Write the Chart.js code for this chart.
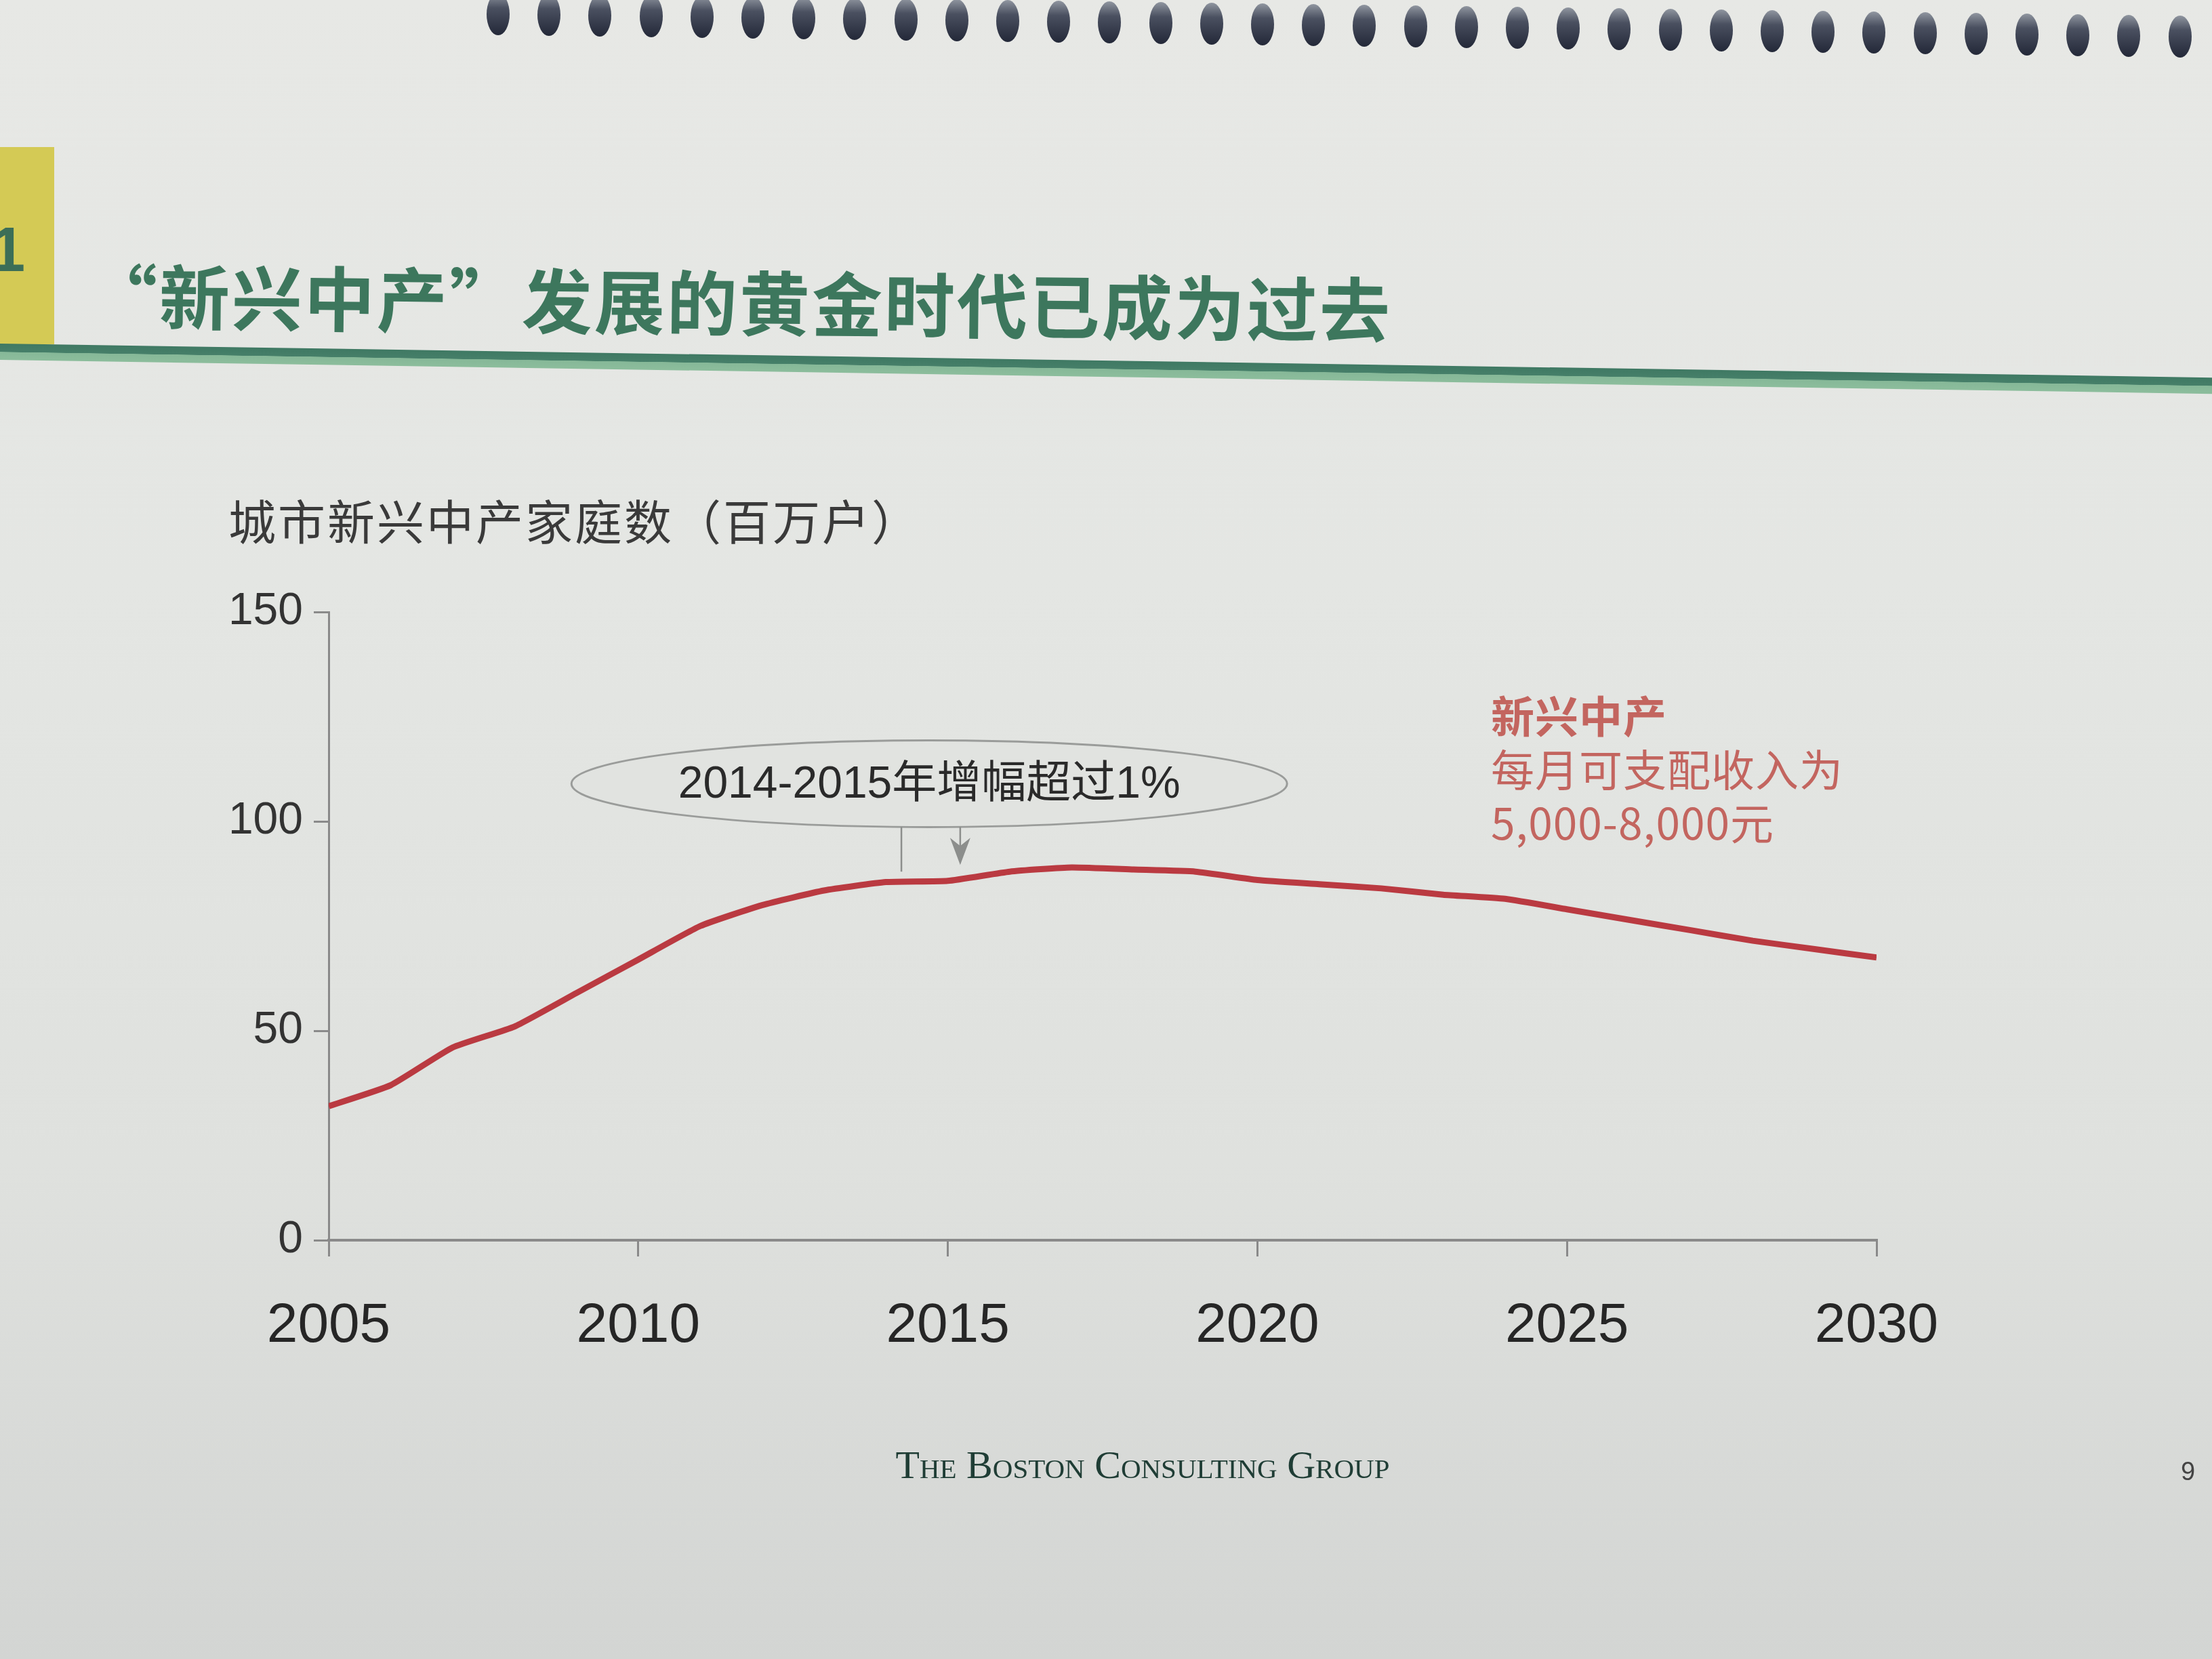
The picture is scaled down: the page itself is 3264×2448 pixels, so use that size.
<!DOCTYPE html>
<html>
<head>
<meta charset="utf-8">
<script src="https://cdn.jsdelivr.net/npm/chart.js@4.4.1/dist/chart.umd.min.js"></script>
<style>
  body {
    margin: 0;
    width: 3264px;
    height: 2448px;
    position: relative;
    overflow: hidden;
    background: linear-gradient(180deg, #e7e8e5 0%, #e4e6e3 35%, #dfe1de 70%, #d3d5d3 100%);
    font-family: "Liberation Sans", "Noto Sans CJK SC", sans-serif;
  }
  .ring {
    position: absolute;
    width: 34px;
    height: 62px;
    border-radius: 50%;
    background: linear-gradient(180deg, #9096a0 0%, #4a5060 35%, #232838 100%);
  }
  .tab {
    position: absolute;
    left: 0; top: 217px;
    width: 80px; height: 291px;
    background: #d4ca55;
  }
  .tab span {
    position: absolute;
    left: -14px; top: 99px;
    font: bold 92px "Liberation Sans", sans-serif;
    line-height: normal;
    color: #3c6e57;
  }
  .title {
    position: absolute;
    left: 128px; top: 380px;
    font: bold 104px "Noto Sans CJK SC", sans-serif;
    line-height: 104px;
    letter-spacing: 3px;
    color: #3d775d;
    white-space: nowrap;
    transform: rotate(0.6deg);
    transform-origin: left center;
  }
  .rule {
    position: absolute;
    left: 0; top: 507px;
    width: 3300px; height: 24px;
    background: linear-gradient(180deg, #3f7963 0%, #467f69 50%, #86b898 52%, #8cbd9c 100%);
    transform: rotate(0.88deg);
    transform-origin: left top;
  }
  .ytitle {
    position: absolute;
    left: 337px; top: 732px;
    font: 70px "Noto Sans CJK SC", sans-serif;
    line-height: 70px;
    letter-spacing: 3px;
    color: #3a3a3a;
    white-space: nowrap;
  }
  .note {
    position: absolute;
    left: 2200px; top: 1014px;
    font: 64px "Noto Sans CJK SC", sans-serif;
    line-height: 79px;
    letter-spacing: 1px;
    color: #c3655f;
    white-space: nowrap;
  }
  .note b { font-weight: bold; }
  .footer {
    position: absolute;
    left: 1186px; top: 2128px;
    width: 1000px;
    text-align: center;
    font: 58px "Liberation Serif", serif;
    font-variant: small-caps;
    color: #1f3d35;
  }
  .page {
    position: absolute;
    left: 3218px; top: 2150px;
    font: 38px "Liberation Sans", sans-serif;
    color: #444;
  }
  #householdsChart { position: absolute; left: 0; top: 0; }
</style>
</head>
<body>
<div id="rings"></div>
<div class="tab"><span>1</span></div>
<div class="title">“新兴中产”发展的黄金时代已成为过去</div>
<div class="rule"></div>
<div class="ytitle">城市新兴中产家庭数（百万户）</div>
<div class="note"><b>新兴中产</b><br>每月可支配收入为<br>5,000-8,000元</div>
<canvas id="householdsChart" width="3264" height="2448"></canvas>
<div class="footer">The Boston Consulting Group</div>
<div class="page">9</div>

<script>
const years = [2005, 2006, 2007, 2008, 2009, 2010, 2011, 2012, 2013, 2014, 2015, 2016, 2017,
               2018, 2019, 2020, 2021, 2022, 2023, 2024, 2025, 2026, 2027, 2028, 2029, 2030]
// 城市新兴中产家庭数, 百万户
const households = [32, 37, 46, 51, 59, 67, 75, 80, 83.5, 85.5, 85.8, 88, 89,
                    88.5, 88, 86, 85, 84, 82.5, 81.5, 79, 76.5, 74, 71.5, 69.5, 67.5]
const yTicks = [0, 50, 100, 150]
const xTicks = [2005, 2010, 2015, 2020, 2025, 2030]

const calloutText = '2014-2015年增幅超过1%'

// spiral binding holes along the top edge
const rings = document.getElementById('rings')
for (let i = 0; i < 34; i++) {
    const d = document.createElement('div')
    d.className = 'ring'
    d.style.left = (718 + i * 75.2) + 'px'
    d.style.top = (-10 + i * 1.0) + 'px'
    rings.appendChild(d)
}

// ellipse callout with the two leader lines
const callout = {
    id: 'callout',
    afterDatasetsDraw(chart) {
        const ctx = chart.ctx
        const xs = chart.scales.x
        const ys = chart.scales.y
        const cx = xs.getPixelForValue(2014.7)
        const cy = ys.getPixelForValue(109)
        const rx = 528, ry = 64

        ctx.save()
        ctx.beginPath()
        ctx.ellipse(cx, cy, rx, ry, 0, 0, Math.PI * 2)
        ctx.fillStyle = '#e1e3e0'
        ctx.fill()
        ctx.lineWidth = 3
        ctx.strokeStyle = '#9a9c9a'
        ctx.stroke()

        ctx.fillStyle = '#2a2a2a'
        ctx.font = '66px "Liberation Sans", "Noto Sans CJK SC", sans-serif'
        ctx.textAlign = 'center'
        ctx.textBaseline = 'middle'
        ctx.fillText(calloutText, cx, cy + 2)

        const bottomAt = (px) => cy + ry * Math.sqrt(1 - Math.pow((px - cx) / rx, 2))

        // plain leader
        const lx = xs.getPixelForValue(2014.25)
        ctx.beginPath()
        ctx.moveTo(lx, bottomAt(lx))
        ctx.lineTo(lx, ys.getPixelForValue(88))
        ctx.lineWidth = 2.5
        ctx.strokeStyle = '#8c8e8c'
        ctx.stroke()

        // arrow
        const ax = xs.getPixelForValue(2015.2)
        const tip = ys.getPixelForValue(89.6)
        ctx.beginPath()
        ctx.moveTo(ax, bottomAt(ax))
        ctx.lineTo(ax, tip - 20)
        ctx.stroke()
        ctx.beginPath()
        ctx.moveTo(ax, tip)
        ctx.lineTo(ax - 15, tip - 40)
        ctx.lineTo(ax, tip - 28)
        ctx.lineTo(ax + 15, tip - 40)
        ctx.closePath()
        ctx.fillStyle = '#8c8e8c'
        ctx.fill()
        ctx.restore()
    }
}

new Chart(
    document.getElementById('householdsChart'),
    {
      type: 'line',
      data: {
        datasets: [
          {
            label: '城市新兴中产家庭数',
            data: years.map((y, i) => ({ x: y, y: households[i] })),
            borderColor: '#ba3a41',
            borderWidth: 9,
            pointRadius: 0,
            tension: 0.15,
          }
        ]
      },
      options: {
        responsive: false,
        animation: false,
        layout: {
          padding: { left: 285, top: 903, right: 495, bottom: 418 }
        },
        plugins: {
          legend: { display: false },
          tooltip: { enabled: false }
        },
        scales: {
          x: {
            type: 'linear',
            min: xTicks[0],
            max: xTicks[xTicks.length - 1],
            afterFit: (s) => { s.height = 200 },
            afterBuildTicks: (s) => { s.ticks = xTicks.map(v => ({ value: v })) },
            ticks: {
              callback: (v) => String(v),
              color: '#262626',
              padding: 54,
              font: { size: 82, family: '"Liberation Sans", sans-serif' },
              maxRotation: 0,
            },
            grid: { drawOnChartArea: false, drawTicks: true, tickLength: 24, color: '#8a8a8a', lineWidth: 3 },
            border: { color: '#8a8a8a', width: 4 },
          },
          y: {
            min: yTicks[0],
            max: yTicks[yTicks.length - 1],
            afterFit: (s) => { s.width = 200 },
            afterBuildTicks: (s) => { s.ticks = yTicks.map(v => ({ value: v })) },
            ticks: {
              color: '#333333',
              padding: 16,
              font: { size: 66, family: '"Liberation Sans", sans-serif' },
            },
            grid: { drawOnChartArea: false, drawTicks: true, tickLength: 22, color: '#8a8a8a', lineWidth: 3 },
            border: { color: '#8a8a8a', width: 3 },
          }
        }
      },
      plugins: [callout]
    }
  );
</script>
</body>
</html>
